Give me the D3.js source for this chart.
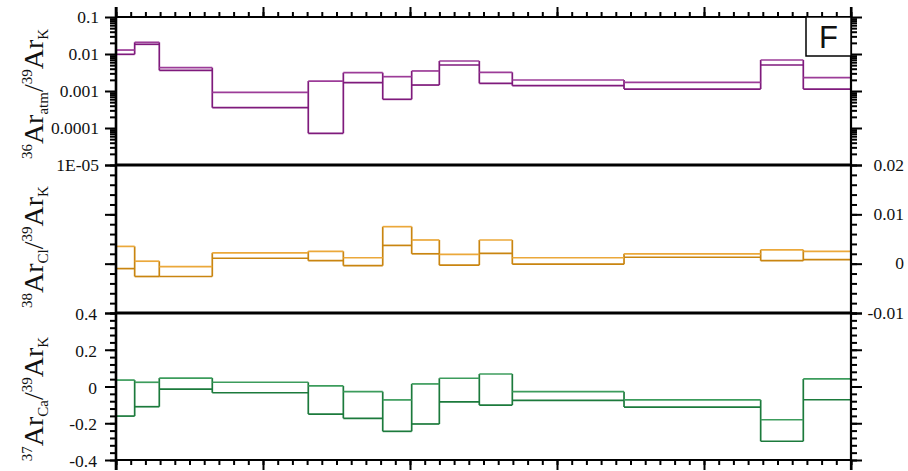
<!DOCTYPE html>
<html>
<head>
<meta charset="utf-8">
<script src="https://cdn.jsdelivr.net/npm/d3@7"></script>
<style>
  html, body { margin: 0; padding: 0; background: #fff; }
  svg { display: block; }
</style>
</head>
<body>
<svg id="chart" width="908" height="471"></svg>
<script>
// ---------------- data ----------------
const stepEdges = [0, 2.54, 5.89, 13.10, 26.16, 30.93, 36.29, 40.23, 43.99, 49.43, 53.92, 69.12, 87.71, 93.51, 100];
const atmHigh = [0.0128, 0.0207, 0.00427, 0.00092, 0.00186, 0.00313, 0.00244, 0.00348, 0.00647, 0.0032, 0.00198, 0.00172, 0.00689, 0.00229];
const atmLow  = [0.0098, 0.0183, 0.00362, 0.000354, 0.000072, 0.00168, 0.000596, 0.00145, 0.00505, 0.00161, 0.00139, 0.00113, 0.00505, 0.00113];
const clHigh  = [0.0035, 0.0005, -0.0006, 0.0022, 0.0025, 0.0012, 0.0075, 0.0048, 0.0019, 0.0048, 0.0012, 0.0020, 0.0028, 0.0025];
const clLow   = [-0.0010, -0.0026, -0.0026, 0.0011, 0.0006, -0.0004, 0.0037, 0.0020, -0.0003, 0.0021, -0.0001, 0.0013, 0.0006, 0.0008];
const caHigh  = [0.035, 0.023, 0.046, 0.023, 0.003, -0.028, -0.073, 0.014, 0.045, 0.068, -0.028, -0.073, -0.181, 0.041];
const caLow   = [-0.161, -0.110, -0.014, -0.034, -0.150, -0.173, -0.244, -0.204, -0.084, -0.101, -0.075, -0.112, -0.298, -0.072];

const atmTickValues = [0.1, 0.01, 0.001, 0.0001, 0.00001];
const atmTickLabels = ["0.1", "0.01", "0.001", "0.0001", "1E-05"];
const clTickValues = [0.02, 0.01, 0, -0.01];
const clTickLabels = ["0.02", "0.01", "0", "-0.01"];
const caTickValues = [0.4, 0.2, 0, -0.2, -0.4];
const caTickLabels = ["0.4", "0.2", "0", "-0.2", "-0.4"];
const panelLetter = "F";

// ---------------- layout ----------------
const SERIF = "'Liberation Serif', 'DejaVu Serif', 'Times New Roman', serif";
const svg = d3.select("#chart");
const L = 116, R = 851;
const T1 = 17, B1 = 165, B2 = 313, B3 = 460;

const x = d3.scaleLinear().domain([0, 100]).range([L, R]);
const yAtm = d3.scaleLog().domain([1e-5, 0.1]).range([B1, T1]);
const yCl = d3.scaleLinear().domain([-0.01, 0.02]).range([B2, B1]);
const yCa = d3.scaleLinear().domain([-0.4, 0.4]).range([B3, B2]);

// ---------------- steps ----------------
function drawSteps(yScale, hi, lo, dark, light) {
  const g = svg.append("g").attr("stroke-width", 1.7).attr("fill", "none");
  const rows = hi.map((h, i) => ({x0: stepEdges[i], x1: stepEdges[i + 1], hi: h, lo: lo[i]}));
  // vertical segments at every edge, spanning the adjacent boxes
  const verts = stepEdges.map((e, j) => {
    const adj = rows.filter((r, i) => i === j - 1 || i === j);
    return {x: e, top: d3.max(adj, r => r.hi), bot: d3.min(adj, r => r.lo)};
  });
  g.selectAll("line.v").data(verts).join("line")
    .attr("class", "v")
    .attr("x1", d => x(d.x)).attr("x2", d => x(d.x))
    .attr("y1", d => yScale(d.top)).attr("y2", d => yScale(d.bot))
    .attr("stroke", dark);
  g.selectAll("line.lo").data(rows).join("line")
    .attr("class", "lo")
    .attr("x1", d => x(d.x0)).attr("x2", d => x(d.x1))
    .attr("y1", d => yScale(d.lo)).attr("y2", d => yScale(d.lo))
    .attr("stroke", dark);
  g.selectAll("line.up").data(rows).join("line")
    .attr("class", "up")
    .attr("x1", d => x(d.x0)).attr("x2", d => x(d.x1))
    .attr("y1", d => yScale(d.hi)).attr("y2", d => yScale(d.hi))
    .attr("stroke", light);
}
drawSteps(yAtm, atmHigh, atmLow, "#7f1a7c", "#9c3c98");
drawSteps(yCl, clHigh, clLow, "#c98510", "#eba83a");
drawSteps(yCa, caHigh, caLow, "#1c7a3c", "#3c9c5c");

// ---------------- axes ----------------
function styleAxis(g) {
  g.select(".domain").remove();
  g.selectAll(".tick line").attr("stroke", "#000").attr("stroke-width", 2);
  g.selectAll(".tick text").remove();
}

const xMinor = d3.range(0, 101, 2);
const xMajor = d3.range(0, 101, 20);
[[d3.axisTop, T1], [d3.axisBottom, B3]].forEach(([ax, yy]) => {
  svg.append("g").attr("transform", `translate(0,${yy})`)
    .call(ax(x).tickValues(xMinor).tickSize(5).tickFormat("")).call(styleAxis);
  svg.append("g").attr("transform", `translate(0,${yy})`)
    .call(ax(x).tickValues(xMajor).tickSize(10).tickFormat("")).call(styleAxis);
});

const logMinor = [];
[1e-5, 1e-4, 1e-3, 1e-2].forEach(p => { for (let k = 2; k <= 9; k++) logMinor.push(p * k); });
const clMinor = d3.range(-10, 21, 2).map(v => v / 1000);
const clMajor = [-0.01, 0, 0.01, 0.02];
const caMinor = d3.range(-10, 11, 1).map(v => v * 0.04);
const caMajor = [-0.4, -0.2, 0, 0.2, 0.4];

function yAxes(scale, minor, major) {
  [[d3.axisLeft, L], [d3.axisRight, R]].forEach(([ax, xx]) => {
    svg.append("g").attr("transform", `translate(${xx},0)`)
      .call(ax(scale).tickValues(minor).tickSize(6).tickFormat("")).call(styleAxis);
    svg.append("g").attr("transform", `translate(${xx},0)`)
      .call(ax(scale).tickValues(major).tickSize(11).tickFormat("")).call(styleAxis);
  });
}
yAxes(yAtm, logMinor, atmTickValues);
yAxes(yCl, clMinor, clMajor);
yAxes(yCa, caMinor, caMajor);

// frame
const frame = svg.append("g").attr("stroke", "#000").attr("fill", "none");
frame.append("line").attr("x1", L).attr("x2", L).attr("y1", T1 - 10).attr("y2", B3 + 10).attr("stroke-width", 2.6);
frame.append("line").attr("x1", R).attr("x2", R).attr("y1", T1 - 10).attr("y2", B3 + 10).attr("stroke-width", 2.2);
[T1, B3].forEach(yy => frame.append("line").attr("x1", L - 1).attr("x2", R + 1).attr("y1", yy).attr("y2", yy).attr("stroke-width", 2.2));
[B1, B2].forEach(yy => frame.append("line").attr("x1", L - 1).attr("x2", R + 1).attr("y1", yy).attr("y2", yy).attr("stroke-width", 2.8));

// tick labels
function labels(vals, labs, scale, xx, dy) {
  svg.append("g").selectAll("text").data(vals).join("text")
    .attr("x", xx).attr("y", d => scale(d)).attr("dy", dy)
    .attr("text-anchor", "end").attr("font-size", 17.5)
    .attr("font-family", SERIF).attr("fill", "#111")
    .text((d, i) => labs[i]);
}
labels(atmTickValues, atmTickLabels, yAtm, 99, "0.33em");
labels(caTickValues, caTickLabels, yCa, 97, "0.4em");
labels(clTickValues, clTickLabels, yCl, 904, "0.33em");

// y titles
function yTitle(cy, isoA, subA) {
  const t = svg.append("text")
    .attr("transform", `translate(43,${cy}) rotate(-90)`)
    .attr("text-anchor", "middle")
    .attr("font-family", SERIF).attr("fill", "#111");
  const big = 28, small = 15;
  t.append("tspan").attr("font-size", small).attr("dy", -11).text(isoA);
  t.append("tspan").attr("font-size", big).attr("dy", 11).text("Ar");
  t.append("tspan").attr("font-size", small).attr("dy", 5).text(subA);
  t.append("tspan").attr("font-size", big).attr("dy", -5).text("/");
  t.append("tspan").attr("font-size", small).attr("dy", -11).text("39");
  t.append("tspan").attr("font-size", big).attr("dy", 11).text("Ar");
  t.append("tspan").attr("font-size", small).attr("dy", 5).text("K");
}
yTitle(94, "36", "atm");
yTitle(247, "38", "Cl");
yTitle(399, "37", "Ca");

// panel letter
svg.append("rect").attr("x", 806).attr("y", T1).attr("width", R - 806).attr("height", 39)
  .attr("fill", "#fff").attr("stroke", "#000").attr("stroke-width", 1.5);
svg.append("text").attr("x", 828.5).attr("y", 48).attr("text-anchor", "middle")
  .attr("font-size", 31).attr("font-family", "'Liberation Sans', Arial, sans-serif").attr("fill", "#111")
  .text(panelLetter);
</script>
</body>
</html>
